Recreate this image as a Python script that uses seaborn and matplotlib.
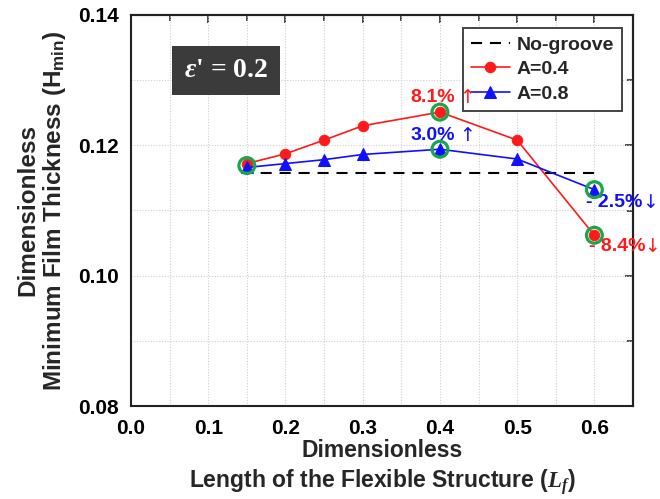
import matplotlib
matplotlib.use("Agg")
import matplotlib.pyplot as plt
import seaborn as sns
from matplotlib.ticker import MultipleLocator

x_vals = [0.15, 0.2, 0.25, 0.3, 0.4, 0.5, 0.6]
a04 = [0.1172, 0.1187, 0.1208, 0.1230, 0.1251, 0.1208, 0.1062]
a08 = [0.1166, 0.1172, 0.1178, 0.1186, 0.1194, 0.1179, 0.1132]
nogroove_x = [0.6, 0.15]
nogroove_y = [0.1158, 0.1158]
highlight_x = [0.15, 0.4, 0.4, 0.6, 0.6]
highlight_y = [0.1169, 0.1251, 0.1194, 0.1132, 0.1062]
x_ticks = [0.0, 0.1, 0.2, 0.3, 0.4, 0.5, 0.6]
y_ticks = [0.08, 0.10, 0.12, 0.14]

sns.set_style("white")
plt.rcParams['font.family'] = ['Liberation Sans', 'DejaVu Sans']
plt.rcParams['mathtext.fontset'] = 'custom'
plt.rcParams['mathtext.rm'] = 'Liberation Sans:bold'
plt.rcParams['mathtext.it'] = 'Liberation Serif:italic:bold'
plt.rcParams['mathtext.bf'] = 'Liberation Sans:bold'

fig = plt.figure(figsize=(6.6, 4.99), dpi=100)
ax = fig.add_axes([131/660, 1-406/499, (633-131)/660, (406-15)/499])

ax.plot(nogroove_x, nogroove_y, color='black', lw=1.5, dashes=(5.3, 3.8), label='No-groove', zorder=3)
sns.lineplot(x=x_vals, y=a04, ax=ax, color='#ff1a1a', marker='o', markersize=7.5,
             markeredgecolor='#ff1a1a', lw=1.2, label='A=0.4', zorder=4)
sns.lineplot(x=x_vals, y=a08, ax=ax, color='#1010ff', marker='^', markersize=8,
             markeredgecolor='#1010ff', lw=1.2, label='A=0.8', zorder=4)
ax.scatter(highlight_x, highlight_y, s=130, facecolors='none', edgecolors='#1aa64b',
           linewidths=2.3, zorder=5)

ax.set_xticks(x_ticks)
ax.set_xticklabels([f"{v:.1f}" for v in x_ticks])
ax.set_yticks(y_ticks)
ax.set_yticklabels([f"{v:.2f}" for v in y_ticks])
ax.xaxis.set_minor_locator(MultipleLocator(0.05))
ax.yaxis.set_minor_locator(MultipleLocator(0.01))
ax.set_xlim(0, 0.65)
ax.set_ylim(0.08, 0.14)
ax.grid(True, which='both', color='#cfcfcf', lw=0.8, ls=(0, (1, 1.5)))
ax.tick_params(axis='both', which='major', direction='out', length=6, width=1.2,
               labelsize=15, pad=3, colors='black')
ax.tick_params(axis='both', which='minor', direction='out', length=4, width=1.2)
for lab in ax.get_xticklabels() + ax.get_yticklabels():
    lab.set_fontweight('bold')
for s in ax.spines.values():
    s.set_color('#222222')
    s.set_linewidth(1.5)

top = ax.secondary_xaxis('top')
top.xaxis.set_major_locator(MultipleLocator(0.1))
top.xaxis.set_minor_locator(MultipleLocator(0.05))
top.tick_params(which='major', direction='in', length=6, width=1.2, labeltop=False)
top.tick_params(which='minor', direction='in', length=4, width=1.2)
top.spines['top'].set_linewidth(1.5)
right = ax.secondary_yaxis('right')
right.yaxis.set_major_locator(MultipleLocator(0.02))
right.yaxis.set_minor_locator(MultipleLocator(0.01))
right.tick_params(which='major', direction='in', length=6, width=1.2, labelright=False)
right.tick_params(which='minor', direction='in', length=4, width=1.2)
right.spines['right'].set_linewidth(1.5)

ax.set_xlabel("Dimensionless\nLength of the Flexible Structure ($\\mathit{L_f}$)",
              fontsize=16.5, fontweight='bold', labelpad=1, linespacing=1.25)
ax.set_ylabel("Dimensionless\nMinimum Film Thickness (H$_{\\mathrm{min}}$)",
              fontsize=17.5, fontweight='bold', labelpad=7, linespacing=1.08)

leg = ax.legend(loc='upper right', bbox_to_anchor=(0.978, 0.967), frameon=True,
                fancybox=False, edgecolor='#444444', framealpha=1,
                prop={'weight': 'bold', 'size': 14}, handlelength=2.0,
                handletextpad=0.35, borderpad=0.42, labelspacing=0.36,
                borderaxespad=0.0)
leg.get_frame().set_linewidth(1.4)
leg.set_zorder(5)

ax.text(0.123, 0.1315, "$\\mathit{\\varepsilon}$' = 0.2", fontsize=20, color='white',
        fontweight='bold', family='Liberation Serif', ha='center', va='center',
        bbox=dict(boxstyle='square,pad=0.42', fc='#3b3b3b', ec='none'), zorder=6)

ann = dict(fontsize=14, fontweight='bold')
arr = dict(fontsize=13.5, family='DejaVu Sans', ha='center', va='center', zorder=7)
ax.text(0.391, 0.1274, "8.1%", color='#ff1a1a', ha='center', va='center', **ann)
ax.text(0.4345, 0.1274, "↑", color='#ff1a1a', **arr)
ax.text(0.391, 0.1215, "3.0%", color='#1010ff', ha='center', va='center', **ann)
ax.text(0.4355, 0.1215, "↑", color='#1010ff', **arr)
ax.text(0.5895, 0.1113, "- 2.5%", color='#1010ff', ha='left', va='center', clip_on=False, **ann)
ax.text(0.6725, 0.1113, "↓", color='#1010ff', clip_on=False, **arr)
ax.text(0.5925, 0.1045, "- 8.4%", color='#ff1a1a', ha='left', va='center', clip_on=False, **ann)
ax.text(0.6745, 0.1045, "↓", color='#ff1a1a', clip_on=False, **arr)

fig.savefig("out.png", dpi=100)
